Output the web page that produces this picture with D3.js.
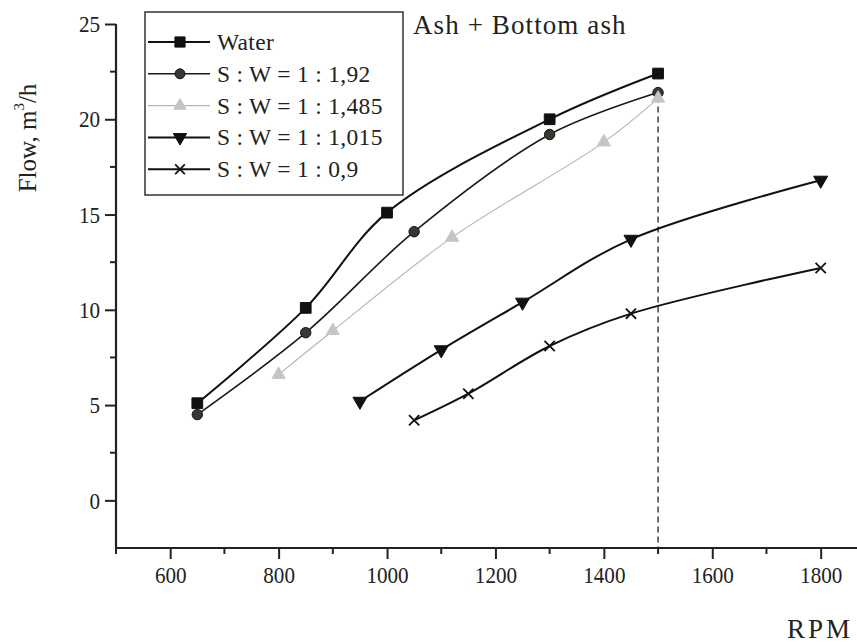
<!DOCTYPE html>
<html>
<head>
<meta charset="utf-8">
<script src="https://cdn.jsdelivr.net/npm/d3@7"></script>
<style>
  body { margin: 0; background: #fff; }
  text { font-family: "Liberation Serif", "Times New Roman", serif; fill: #222; }
</style>
</head>
<body>
<div id="chart"></div>
<script>
// series (RPM vs flow m3/h)
const rpmWater = [650, 850, 1000, 1300, 1500];
const flowWater = [5.1, 10.1, 15.1, 20.0, 22.4];
const rpm192 = [650, 850, 1050, 1300, 1500];
const flow192 = [4.5, 8.8, 14.1, 19.2, 21.4];
const rpm1485 = [800, 900, 1120, 1400, 1500];
const flow1485 = [6.6, 8.9, 13.8, 18.8, 21.1];
const rpm1015 = [950, 1100, 1250, 1450, 1800];
const flow1015 = [5.2, 7.9, 10.4, 13.7, 16.8];
const rpm09 = [1050, 1150, 1300, 1450, 1800];
const flow09 = [4.2, 5.6, 8.1, 9.8, 12.2];
const seriesNames = ['Water', 'S : W = 1 : 1,92', 'S : W = 1 : 1,485', 'S : W = 1 : 1,015', 'S : W = 1 : 0,9'];
const xTicks = [600, 800, 1000, 1200, 1400, 1600, 1800];
const yTicks = [0, 5, 10, 15, 20, 25];
const markRpm = 1500;

const width = 857, height = 643;
const svg = d3.select('#chart').append('svg')
    .attr('width', width).attr('height', height);

// scales
const x = d3.scaleLinear().domain([500, 1867]).range([116, 857]);
const y = d3.scaleLinear().domain([-2.5, 25]).range([548, 24]);

// series styles
const series = [
    {name: seriesNames[0], rpm: rpmWater, flow: flowWater, stroke: '#111', sw: 2,
        sym: d3.symbolSquare, size: 115, fill: '#111', mstroke: '#111', rot: 0},
    {name: seriesNames[1], rpm: rpm192, flow: flow192, stroke: '#1a1a1a', sw: 1.6,
        sym: d3.symbolCircle, size: 85, fill: '#3b362f', mstroke: '#111', rot: 0},
    {name: seriesNames[2], rpm: rpm1485, flow: flow1485, stroke: '#b4b4b4', sw: 1.1,
        sym: d3.symbolTriangle, size: 75, fill: '#c4c6c2', mstroke: '#c4c6c2', rot: 0},
    {name: seriesNames[3], rpm: rpm1015, flow: flow1015, stroke: '#111', sw: 2,
        sym: d3.symbolTriangle, size: 85, fill: '#111', mstroke: '#111', rot: 180},
    {name: seriesNames[4], rpm: rpm09, flow: flow09, stroke: '#111', sw: 2,
        sym: d3.symbolTimes, size: 70, fill: 'none', mstroke: '#111', rot: 0}
];

// dashed marker line at 1500 RPM
svg.append('line')
    .attr('x1', x(markRpm)).attr('x2', x(markRpm))
    .attr('y1', y(21.2)).attr('y2', y(-2.5))
    .attr('stroke', '#222').attr('stroke-width', 1.3)
    .attr('stroke-dasharray', '6,4');

// axes
const yAxis = d3.axisLeft(y).tickValues(yTicks).tickSize(11).tickPadding(7);
const yAxisG = svg.append('g').attr('transform', `translate(${x(500)},0)`).call(yAxis);
const xAxis = d3.axisBottom(x).tickValues(xTicks).tickSize(11).tickPadding(7).tickFormat(d3.format('d'));
const xAxisG = svg.append('g').attr('transform', `translate(0,${y(-2.5)})`).call(xAxis);
[yAxisG, xAxisG].forEach(g => {
    g.select('.domain').attr('stroke', '#222').attr('stroke-width', 2.2);
    g.selectAll('.tick line').attr('stroke', '#222').attr('stroke-width', 2);
    g.selectAll('.tick text').attr('font-size', 24).attr('fill', '#222')
        .attr('font-family', '"Liberation Serif", serif')
        .attr('transform', 'scale(0.88,1)');
});
yAxisG.select('.domain').attr('d', `M-0,${y(25)}H0V${y(-2.5)}H0`);
xAxisG.select('.domain').attr('d', `M${x(500)},0H${width}`);

// minor ticks
const xMinor = d3.range(500, 1900, 200);
svg.append('g').selectAll('line').data(xMinor).join('line')
    .attr('x1', d => x(d)).attr('x2', d => x(d))
    .attr('y1', y(-2.5)).attr('y2', y(-2.5) + 6)
    .attr('stroke', '#222').attr('stroke-width', 2);
const yMinor = [22.5, 17.5, 12.5, 7.5, 2.5];
svg.append('g').selectAll('line').data(yMinor).join('line')
    .attr('x1', x(500) - 6).attr('x2', x(500))
    .attr('y1', d => y(d)).attr('y2', d => y(d))
    .attr('stroke', '#222').attr('stroke-width', 2);

// curves
const line = d3.line()
    .x(d => x(d[0])).y(d => y(d[1]))
    .curve(d3.curveCatmullRom.alpha(0.5));

series.forEach(s => {
    const pts = s.rpm.map((r, i) => [r, s.flow[i]]);
    svg.append('path').datum(pts)
        .attr('d', line)
        .attr('fill', 'none')
        .attr('stroke', s.stroke)
        .attr('stroke-width', s.sw);
    svg.append('g').selectAll('path').data(pts).join('path')
        .attr('transform', d => `translate(${x(d[0])},${y(d[1])}) rotate(${s.rot})`)
        .attr('d', d3.symbol(s.sym, s.size))
        .attr('fill', s.fill)
        .attr('stroke', s.mstroke)
        .attr('stroke-width', s.sym === d3.symbolTimes ? 1.8 : 1);
});

// legend
const legend = svg.append('g');
legend.append('rect')
    .attr('x', 145).attr('y', 12).attr('width', 258).attr('height', 183)
    .attr('fill', '#fff').attr('stroke', '#333').attr('stroke-width', 1.5);
series.forEach((s, i) => {
    const ly = 42 + i * 31.8;
    const row = legend.append('g').attr('transform', `translate(0,${ly})`);
    row.append('line')
        .attr('x1', 148).attr('x2', 210).attr('y1', 0).attr('y2', 0)
        .attr('stroke', s.stroke).attr('stroke-width', s.sw);
    row.append('path')
        .attr('transform', `translate(180,0) rotate(${s.rot})`)
        .attr('d', d3.symbol(s.sym, s.size * 0.9))
        .attr('fill', s.fill)
        .attr('stroke', s.mstroke)
        .attr('stroke-width', s.sym === d3.symbolTimes ? 1.8 : 1);
    row.append('text')
        .attr('x', 217).attr('y', 8)
        .attr('font-size', 23.5)
        .attr('letter-spacing', 0.3)
        .text(s.name);
});

// title
svg.append('text')
    .attr('x', 413).attr('y', 34)
    .attr('font-size', 27)
    .attr('letter-spacing', 1.1)
    .text('Ash + Bottom ash');

// axis titles
svg.append('text')
    .attr('x', 787).attr('y', 638)
    .attr('font-size', 27)
    .attr('letter-spacing', 3)
    .text('RPM');

const yLab = svg.append('text')
    .attr('transform', 'translate(36,138) rotate(-90)')
    .attr('text-anchor', 'middle')
    .attr('font-size', 25);
yLab.append('tspan').text('Flow, m');
yLab.append('tspan').attr('font-size', 15).attr('dy', -12).text('3');
yLab.append('tspan').attr('dy', 12).text('/h');
</script>
</body>
</html>
